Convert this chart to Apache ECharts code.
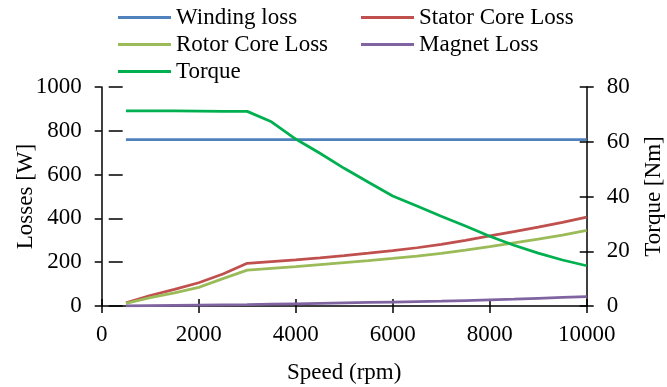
<!DOCTYPE html>
<html>
<head>
<meta charset="utf-8">
<script src="https://cdn.jsdelivr.net/npm/echarts@6/dist/echarts.min.js"></script>
<style>
html,body{margin:0;padding:0;background:#fff;}
#c{width:667px;height:387px;}
</style>
</head>
<body>
<div id="c"></div>
<script>
const speeds = [500,1000,1500,2000,2500,3000,3500,4000,4500,5000,5500,6000,6500,7000,7500,8000,8500,9000,9500,10000];
const windingLoss = [760,760,760,760,760,760,760,760,760,760,760,760,760,760,760,760,760,760,760,760];
const statorCoreLoss = [15,48,76,106,146,195,203,211,220,230,241,253,266,281,300,320,340,360,382,406];
const rotorCoreLoss = [12,38,60,85,125,164,172,180,189,198,207,217,228,240,255,271,288,305,324,345];
const magnetLoss = [1,2,3,4,5,6,8,10,12,14,16,18,20,22,25,28,31,35,39,43];
const torque = [71.3,71.3,71.3,71.2,71.1,71.1,67.3,61,55.8,50.3,45.2,40.2,36.5,32.8,29.2,25.5,22.2,19.3,16.8,14.7];
const lossTicks = {min:0,max:1000,interval:200};
const torqueTicks = {min:0,max:80,interval:20};
const speedTicks = {min:0,max:10000,interval:2000};

const FONT = 'Liberation Serif';
const FS = 23;
const txt = {fontFamily:FONT,fontSize:FS,color:'#000'};
const plain = v => String(v);

function pairs(v){ return speeds.map((s,i)=>[s,v[i]]); }

const chart = echarts.init(document.getElementById('c'), null, {renderer:'canvas'});
const axisLine = {show:true,onZero:false,lineStyle:{color:'#000',width:1.5}};
const tickOut = {show:true,inside:false,length:7,lineStyle:{color:'#000',width:1.5}};
const tickIn = {show:true,inside:true,length:7,lineStyle:{color:'#000',width:1.5}};
const tickLong = {show:true,inside:true,length:14,lineStyle:{color:'#000',width:1.5}};
const hidden = {axisLine:{show:false,onZero:false},axisLabel:{show:false},splitLine:{show:false}};
const gridBox = {left:101.7,right:80.3,top:87,bottom:81,containLabel:false,outerBoundsMode:'none'};

chart.setOption({
  animation:false,
  backgroundColor:'#fff',
  legend:[
    {data:['Winding loss','Rotor Core Loss','Torque'],orient:'vertical',left:118,top:6,itemGap:4,
     icon:'rect',itemWidth:53,itemHeight:3,textStyle:txt,padding:0},
    {data:['Stator Core Loss','Magnet Loss'],orient:'vertical',left:361,top:6,itemGap:4,
     icon:'rect',itemWidth:53,itemHeight:3,textStyle:txt,padding:0}
  ],
  grid:[gridBox,{...gridBox}],
  xAxis:[
    {type:'value',gridIndex:0,...speedTicks,position:'bottom',name:'Speed (rpm)',nameLocation:'middle',nameGap:55,nameMoveOverlap:false,
     nameTextStyle:txt,axisLine:axisLine,axisTick:tickOut,axisLabel:{...txt,margin:17,formatter:plain},splitLine:{show:false}},
    {type:'value',gridIndex:1,...speedTicks,position:'bottom',axisTick:tickIn,...hidden}
  ],
  yAxis:[
    {type:'value',gridIndex:0,...lossTicks,position:'left',name:'Losses [W]',nameLocation:'middle',nameGap:64,nameRotate:90,nameMoveOverlap:false,
     nameTextStyle:txt,axisLine:axisLine,axisTick:tickOut,axisLabel:{...txt,margin:20,formatter:plain},splitLine:{show:false}},
    {type:'value',gridIndex:0,...torqueTicks,position:'right',name:'Torque [Nm]',nameLocation:'middle',nameGap:56,nameRotate:90,nameMoveOverlap:false,
     nameTextStyle:txt,axisLine:axisLine,axisTick:tickOut,axisLabel:{...txt,margin:20,formatter:plain},splitLine:{show:false}},
    {type:'value',gridIndex:1,...lossTicks,position:'left',offset:-7,axisTick:tickLong,...hidden},
    {type:'value',gridIndex:1,...torqueTicks,position:'right',axisTick:tickIn,...hidden}
  ],
  series:[
    {name:'Winding loss',type:'line',data:pairs(windingLoss),yAxisIndex:0,showSymbol:false,color:'#4f81bd',lineStyle:{width:2.75}},
    {name:'Stator Core Loss',type:'line',data:pairs(statorCoreLoss),yAxisIndex:0,showSymbol:false,color:'#c0504d',lineStyle:{width:2.75}},
    {name:'Rotor Core Loss',type:'line',data:pairs(rotorCoreLoss),yAxisIndex:0,showSymbol:false,color:'#9bbb59',lineStyle:{width:2.75}},
    {name:'Magnet Loss',type:'line',data:pairs(magnetLoss),yAxisIndex:0,showSymbol:false,color:'#8064a2',lineStyle:{width:2.75}},
    {name:'Torque',type:'line',data:pairs(torque),yAxisIndex:1,showSymbol:false,color:'#00b050',lineStyle:{width:2.75}}
  ]
});
</script>
</body>
</html>
